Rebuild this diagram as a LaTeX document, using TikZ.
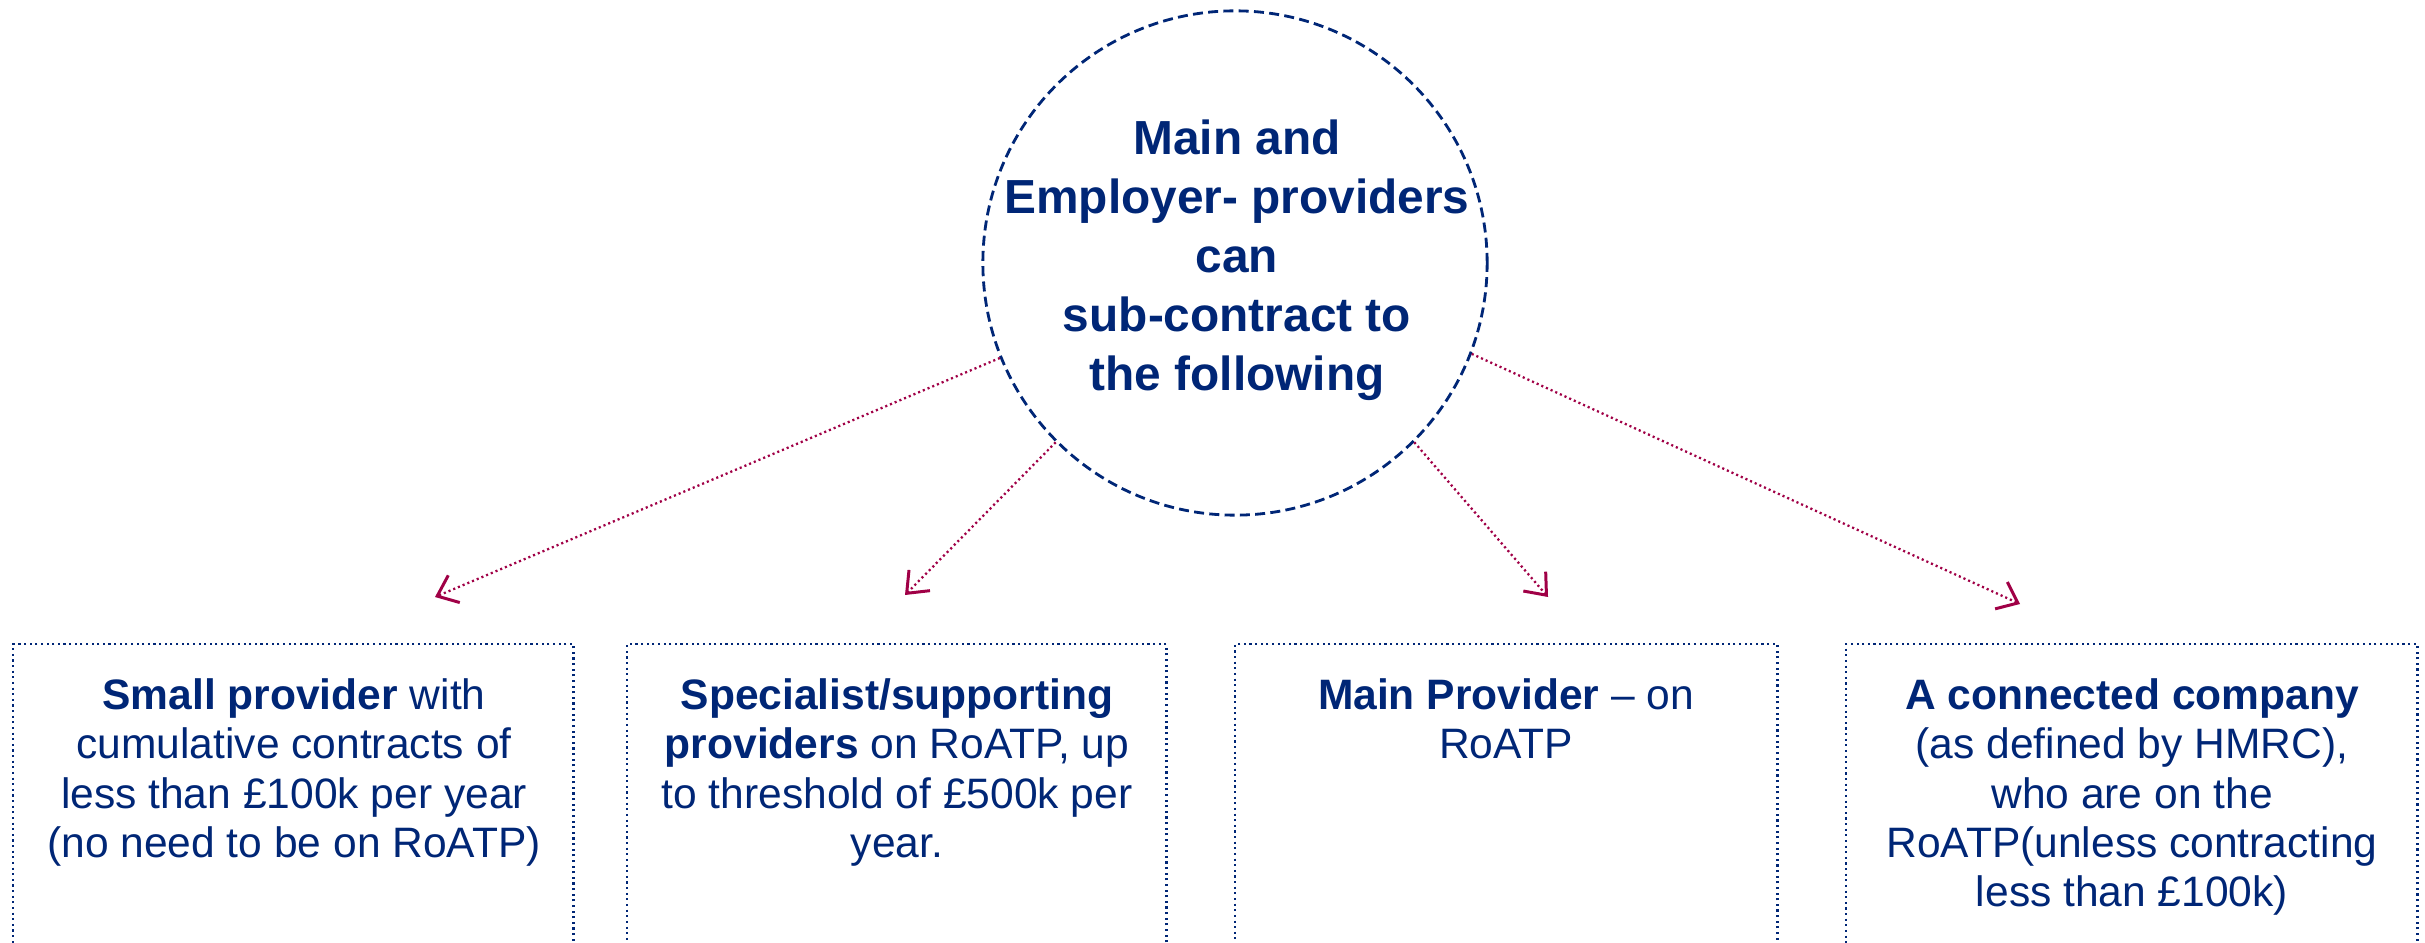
\documentclass[tikz,border=0pt]{standalone}
\usepackage{fontspec}
\setmainfont{Liberation Sans}
\usetikzlibrary{arrows.meta}
\definecolor{navy}{RGB}{0,38,118}
\definecolor{crim}{RGB}{160,0,70}
\begin{document}
\begin{tikzpicture}[x=0.01cm,y=-0.01cm,
  hub/.style={circle, draw=navy, line width=0.8pt, dash pattern=on 2.85pt off 1.5pt, minimum size=5.04cm, inner sep=0pt},
  hubtext/.style={text=navy, font=\fontsize{13.6}{16.8}\selectfont\bfseries, align=center, inner sep=0pt, anchor=north},
  optbox/.style={draw=navy, line width=0.7pt, dash pattern=on 0.6pt off 1.0pt, minimum height=4cm, inner sep=0pt, anchor=north west},
  boxtext/.style={text=navy, font=\fontsize{12.1}{14.0}\selectfont, align=center, inner sep=0pt, anchor=north},
  link/.style={draw=crim, line width=0.65pt, dash pattern=on 0.6pt off 0.85pt, -{Straight Barb[length=5.2pt,width=8.4pt,line width=0.85pt]}}]
\useasboundingbox (0,0) rectangle (2425,943);
\clip (0,0) rectangle (2425,943);
\node[hub] (c) at (1235,263) {};
\node[hubtext] (ct) at (1237,119) {Main and\\Employer- providers\\can\\sub-contract to\\the following};
\node[optbox, minimum width=5.60cm] (b1) at (12,643) {};
\node[optbox, minimum width=5.39cm] (b2) at (626,643) {};
\node[optbox, minimum width=5.42cm] (b3) at (1234,643) {};
\node[optbox, minimum width=5.71cm] (b4) at (1845,643) {};
\node[boxtext] (t1) at (294,678) {\textbf{Small provider} with\\cumulative contracts of\\less than £100k per year\\(no need to be on RoATP)};
\node[boxtext] (t2) at (897,678) {\textbf{Specialist/supporting}\\\textbf{providers} on RoATP, up\\to threshold of £500k per\\year.};
\node[boxtext] (t3) at (1506,678) {\textbf{Main Provider} – on\\RoATP};
\node[boxtext] (t4) at (2132,678) {\textbf{A connected company}\\(as defined by HMRC),\\who are on the\\RoATP(unless contracting\\less than £100k)};
\coordinate (e1) at (435,597);
\coordinate (e2) at (905,595);
\coordinate (e3) at (1548,597);
\coordinate (e4) at (2020,604);
\draw[link] (c.202) -- (e1);
\draw[link] (c.225) -- (e2);
\draw[link] (c.315) -- (e3);
\draw[link] (c.339) -- (e4);
\end{tikzpicture}
\end{document}
